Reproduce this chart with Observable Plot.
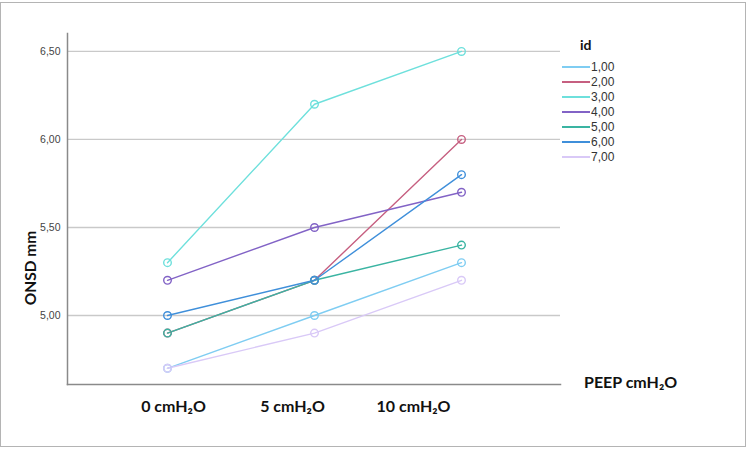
<!DOCTYPE html>
<html>
<head>
<meta charset="utf-8">
<script src="https://cdn.jsdelivr.net/npm/d3@7"></script>
<script src="https://cdn.jsdelivr.net/npm/@observablehq/plot@0.6"></script>
<style>
  html, body { margin: 0; padding: 0; background: #fff; }
  #wrap { position: relative; width: 749px; height: 450px; overflow: hidden; }
  #frame { position: absolute; left: 0; top: 2px; width: 746px; height: 445px; border: 1px solid #b4b4b4; box-sizing: border-box; pointer-events: none; }
  .lbl { position: absolute; font-family: Lato, "Open Sans", sans-serif; font-weight: 700; color: #111; white-space: nowrap; }
  #legend { position: absolute; left: 562px; top: 36px; font-family: "Liberation Sans", Arial, sans-serif; font-size: 12px; color: #333; }
  #legend .title { font-family: Lato, sans-serif; font-weight: 700; font-size: 14px; margin-left: 18px; margin-bottom: 6px; color: #111; }
  #legend .row { display: flex; align-items: center; height: 15px; }
  #legend .sw { width: 28px; height: 0; border-top: 2px solid; margin-right: 1px; }
</style>
</head>
<body>
<div id="wrap"></div>
<script>
// ---- data ----
const peepLevels = ["0", "5", "10"];
const peepTickLabels = ["0 cmH₂O", "5 cmH₂O", "10 cmH₂O"];
const ids = ["1,00", "2,00", "3,00", "4,00", "5,00", "6,00", "7,00"];
const id1 = [4.7, 5.0, 5.3];
const id2 = [4.9, 5.2, 6.0];
const id3 = [5.3, 6.2, 6.5];
const id4 = [5.2, 5.5, 5.7];
const id5 = [4.9, 5.2, 5.4];
const id6 = [5.0, 5.2, 5.8];
const id7 = [4.7, 4.9, 5.2];
const yTicks = [5.0, 5.5, 6.0, 6.5];
const colors = ["#7fcdf2", "#c65f80", "#6ee0dc", "#8263c6", "#3ab4a2", "#3f8fda", "#d9c9f7"];

const seriesValues = [id1, id2, id3, id4, id5, id6, id7];
const rows = [];
seriesValues.forEach((vals, i) => vals.forEach((v, j) => rows.push({id: ids[i], peep: peepLevels[j], onsd: v})));
const tickRows = peepLevels.map((p, j) => ({peep: p, label: peepTickLabels[j]}));
const tickDx = [6, -22, -48];

const fmt = d => d.toFixed(2).replace(".", ",");

const chart = Plot.plot({
  width: 749,
  height: 450,
  marginLeft: 67,
  marginRight: 189,
  marginTop: 33,
  marginBottom: 66,
  style: {fontFamily: "'Liberation Sans', Arial, sans-serif", background: "transparent"},
  x: {type: "point", domain: peepLevels, padding: 0.666, axis: null},
  y: {domain: [4.608, 6.602], axis: null},
  color: {domain: ids, range: colors},
  marks: [
    Plot.ruleY(yTicks, {stroke: "#c9c9c9", strokeWidth: 1.3}),
    Plot.axisY({ticks: yTicks, tickSize: 0, tickPadding: 7, tickFormat: fmt, fontSize: 10.5, fill: "#444", label: null}),
    Plot.frame({anchor: "left", stroke: "#8a8a8a", strokeWidth: 1.5}),
    Plot.frame({anchor: "bottom", stroke: "#8a8a8a", strokeWidth: 1.5}),
    Plot.line(rows, {x: "peep", y: "onsd", z: "id", stroke: "id", strokeWidth: 1.4}),
    Plot.dot(rows, {x: "peep", y: "onsd", stroke: "id", r: 3.8, strokeWidth: 1.4, fill: "white", fillOpacity: 0}),
    ...tickRows.map((t, j) => Plot.text([t], {x: "peep", text: "label", frameAnchor: "bottom", dy: 27, dx: tickDx[j], fontSize: 16, fontWeight: 700, fontFamily: "Lato, 'Open Sans', sans-serif", fill: "#111"}))
  ]
});

const wrap = document.getElementById("wrap");
wrap.appendChild(chart);

const frame = document.createElement("div");
frame.id = "frame";
wrap.appendChild(frame);

const yl = document.createElement("div");
yl.className = "lbl";
yl.textContent = "ONSD mm";
yl.style.cssText = "left:30px; top:268px; font-size:15.5px; transform: translate(-50%,-50%) rotate(-90deg);";
wrap.appendChild(yl);

const xl = document.createElement("div");
xl.className = "lbl";
xl.textContent = "PEEP cmH₂O";
xl.style.cssText = "left:584px; top:372px; font-size:16px;";
wrap.appendChild(xl);

const lg = document.createElement("div");
lg.id = "legend";
const t = document.createElement("div");
t.className = "title";
t.textContent = "id";
lg.appendChild(t);
ids.forEach((id, i) => {
  const r = document.createElement("div");
  r.className = "row";
  const s = document.createElement("div");
  s.className = "sw";
  s.style.borderTopColor = colors[i];
  const tx = document.createElement("span");
  tx.textContent = id;
  r.appendChild(s); r.appendChild(tx);
  lg.appendChild(r);
});
wrap.appendChild(lg);
</script>
</body>
</html>
